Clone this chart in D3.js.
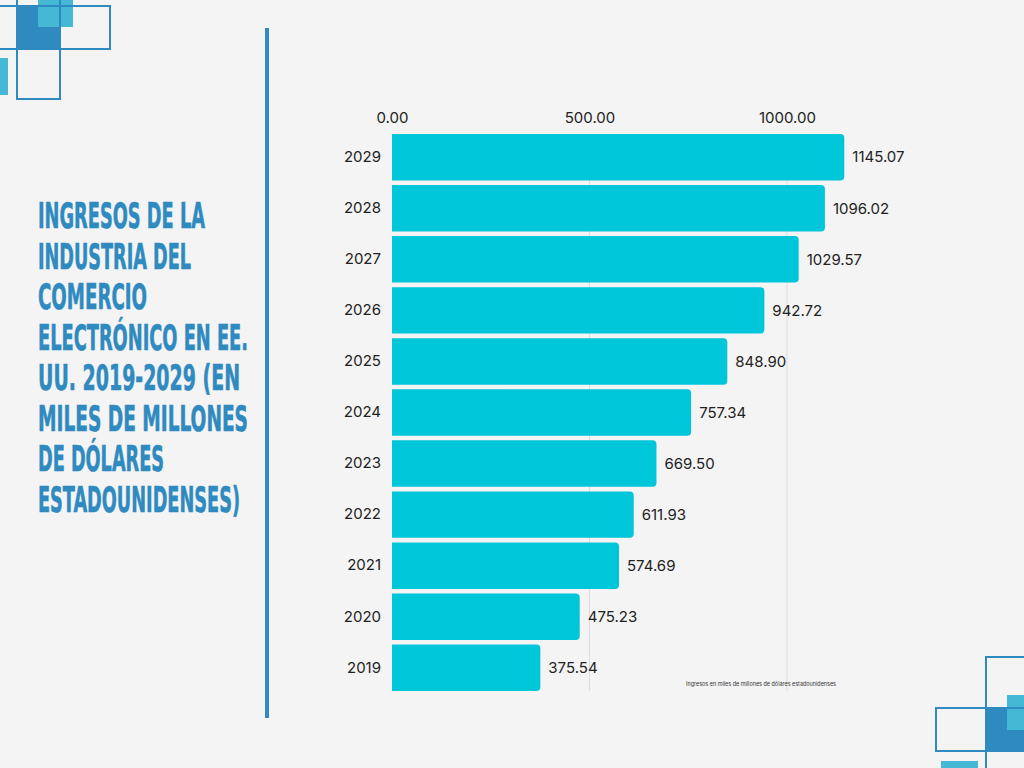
<!DOCTYPE html>
<html>
<head>
<meta charset="utf-8">
<script src="https://cdn.jsdelivr.net/npm/d3@7"></script>
<style>
  body { margin: 0; background: #f4f4f4; }
  svg { display: block; }
</style>
</head>
<body>
<div id="chart"></div>
<script>
// data
const years = ["2029", "2028", "2027", "2026", "2025", "2024", "2023", "2022", "2021", "2020", "2019"];
const revenue = [1145.07, 1096.02, 1029.57, 942.72, 848.90, 757.34, 669.50, 611.93, 574.69, 475.23, 375.54];
const xTicks = [0, 500, 1000];
const titleLines = [
    "INGRESOS DE LA",
    "INDUSTRIA DEL",
    "COMERCIO",
    "ELECTRÓNICO EN EE.",
    "UU. 2019-2029 (EN",
    "MILES DE MILLONES",
    "DE DÓLARES",
    "ESTADOUNIDENSES)"
];
const titleWidths = [167, 153, 109, 210, 202, 210, 126, 202];
const note = "Ingresos en miles de millones de dólares estadounidenses";

const W = 1024, H = 768;
const blue = "#2f8ac0", light = "#45b8d6", barColor = "#00c6da";
const font = "Inter, 'Open Sans', sans-serif";

const svg = d3.select("#chart").append("svg")
    .attr("width", W).attr("height", H)
    .style("background", "#f4f4f4");

// corner decorations
function deco(g, items) {
    items.forEach(d => {
        g.append("rect")
            .attr("x", d[0]).attr("y", d[1]).attr("width", d[2]).attr("height", d[3])
            .attr("fill", d[4] || "none")
            .attr("stroke", d[4] ? "none" : blue)
            .attr("stroke-width", 2);
    });
}
const decoG = svg.append("g");
deco(decoG, [
    [17, 6, 43, 43, blue],
    [38, -2, 35, 29, light],
    [0, 58, 8, 37, light],
    [-5, 6, 115, 43],
    [17, -5, 43, 54],
    [17, 49, 43, 50],
    [986, 708, 45, 43, blue],
    [1007, 695, 20, 35, light],
    [941, 761, 37, 10, light],
    [986, 657, 45, 120],
    [936, 708, 100, 43]
]);

// vertical divider
svg.append("rect")
    .attr("x", 265).attr("y", 28).attr("width", 4).attr("height", 690)
    .attr("fill", blue);

// title
const title = svg.append("g");
titleLines.forEach((t, i) => {
    title.append("text")
        .attr("x", 38).attr("y", 228 + i * 40.5)
        .attr("textLength", titleWidths[i])
        .attr("lengthAdjust", "spacingAndGlyphs")
        .attr("font-family", "'Liberation Sans Narrow', 'DejaVu Sans Condensed', sans-serif")
        .attr("font-weight", "bold")
        .attr("font-size", 35)
        .attr("fill", blue)
        .attr("stroke", blue)
        .attr("stroke-width", 0.6)
        .text(t);
});

// chart
const plotLeft = 392, plotTop = 134, plotBottom = 691;
const x = d3.scaleLinear().domain([0, 1000]).range([plotLeft, plotLeft + 395]);
const y = d3.scaleBand().domain(years).range([plotTop, plotBottom]).paddingInner(0.09).paddingOuter(0.0);

svg.append("g").selectAll("line")
    .data(xTicks.slice(1))
    .join("line")
    .attr("x1", d => x(d)).attr("x2", d => x(d))
    .attr("y1", plotTop).attr("y2", plotBottom)
    .attr("stroke", "#dcdcdc").attr("stroke-width", 1);

const xAxis = svg.append("g")
    .attr("transform", "translate(0," + (plotTop - 8) + ")")
    .call(d3.axisTop(x).tickValues(xTicks).tickFormat(d3.format(".2f")).tickSize(0));
xAxis.select(".domain").remove();
xAxis.selectAll("text")
    .attr("font-family", font).attr("font-size", 15).attr("fill", "#222");

const yAxis = svg.append("g")
    .attr("transform", "translate(" + (plotLeft - 11) + ",0)")
    .call(d3.axisLeft(y).tickSize(0).tickPadding(0));
yAxis.select(".domain").remove();
yAxis.selectAll("text")
    .attr("font-family", font).attr("font-size", 15).attr("fill", "#222");

function barPath(x0, y0, w, h, r) {
    return "M" + x0 + "," + y0 +
        "H" + (x0 + w - r) +
        "Q" + (x0 + w) + "," + y0 + " " + (x0 + w) + "," + (y0 + r) +
        "V" + (y0 + h - r) +
        "Q" + (x0 + w) + "," + (y0 + h) + " " + (x0 + w - r) + "," + (y0 + h) +
        "H" + x0 + "Z";
}

const rows = years.map((yr, i) => ({ year: yr, value: revenue[i] }));

svg.append("g").selectAll("path")
    .data(rows)
    .join("path")
    .attr("d", d => barPath(x(0), y(d.year), x(d.value) - x(0), y.bandwidth(), 4))
    .attr("fill", barColor);

svg.append("g").selectAll("text")
    .data(rows)
    .join("text")
    .attr("x", d => x(d.value) + 8)
    .attr("y", d => y(d.year) + y.bandwidth() / 2)
    .attr("dy", "0.35em")
    .attr("font-family", font).attr("font-size", 15).attr("fill", "#222")
    .text(d => d3.format(".2f")(d.value));

svg.append("text")
    .attr("x", 761).attr("y", 686)
    .attr("text-anchor", "middle")
    .attr("textLength", 150)
    .attr("lengthAdjust", "spacingAndGlyphs")
    .attr("font-family", font).attr("font-size", 5.5).attr("fill", "#333")
    .text(note);
</script>
</body>
</html>
